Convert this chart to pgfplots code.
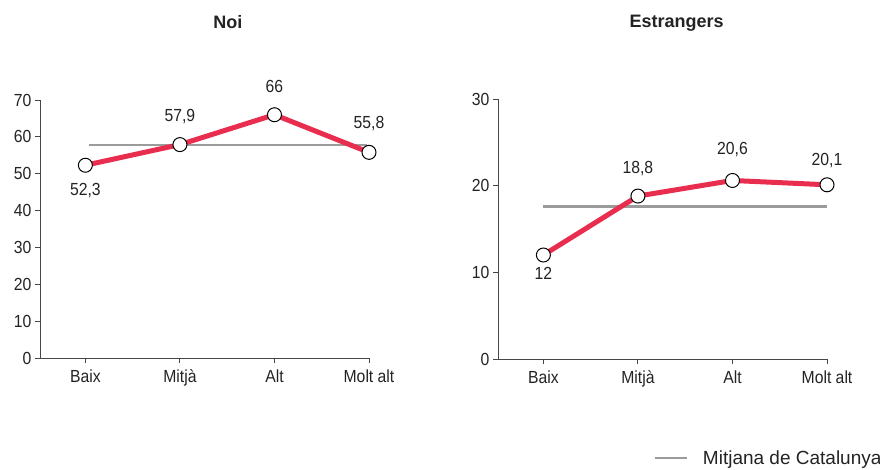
\documentclass[border=0pt]{standalone}
\usepackage{pgfplots}
\pgfplotsset{compat=1.18}
\usepackage{fontspec}
\setmainfont{Liberation Sans}
\newfontfamily\condfont[FakeStretch=0.9]{Liberation Sans}

\definecolor{linered}{RGB}{233,45,79}
\definecolor{avggray}{RGB}{155,155,155}
\definecolor{axisgray}{RGB}{70,70,70}
\definecolor{txt}{RGB}{35,35,35}

\pgfplotsset{
  panel/.style={
    scale only axis, width=329pt,
    axis x line=bottom, axis y line=left,
    axis line style={-, axisgray, line width=0.9pt},
    tick align=outside, major tick length=5pt,
    tick style={axisgray, line width=0.9pt},
    xmin=-0.48, xmax=3, ymin=0,
    xtick={0,1,2,3}, xticklabels={Baix,Mitjà,Alt,Molt alt},
    tick label style={font=\condfont\fontsize{17.5}{19}\selectfont, text=txt},
    xticklabel style={yshift=-3pt},
    /pgf/number format/assume math mode=true,
    title style={font=\bfseries\fontsize{18}{20}\selectfont, text=txt, anchor=center},
    clip=false,
  },
  avg/.style={avggray, line width=2.8pt},
  serie/.style={linered, line width=5pt,
    mark=*, mark size=7pt, mark options={fill=white, draw=black, line width=1pt},
    point meta=explicit symbolic, nodes near coords,
    visualization depends on={\thisrow{dy} \as \dy},
    every node near coord/.append style={anchor=center, yshift=\dy pt,
      font=\condfont\fontsize{17.5}{19}\selectfont, text=txt}},
}

\begin{document}
\begin{tikzpicture}
\path[use as bounding box] (0,0) rectangle (880pt,469pt);

% Noi
\begin{axis}[panel, at={(40pt,111pt)}, anchor=south west, height=258pt,
  ymax=70, ytick={0,10,...,70},
  title={Noi}, title style={at={(0.571,1.279)}}]
  \addplot[avg] coordinates {(0.04,57.8) (2.98,57.8)};
  \addplot[serie] table[x=x, y=y, meta=lbl] {
x y lbl dy
0 52.3 52,3 -25
1 57.9 57,9 28
2 66.0 66 28
3 55.8 55,8 29
};
\end{axis}

% Estrangers
\begin{axis}[panel, at={(498pt,110pt)}, anchor=south west, height=260pt,
  ymax=30, ytick={0,10,20,30},
  title={Estrangers}, title style={at={(0.5426,1.269)}},
  legend style={at={(0.471,-0.381)}, anchor=west, draw=none, fill=none,
    inner sep=0pt, font=\fontsize{19}{21}\selectfont, text=txt,
    nodes={inner sep=0pt}},
  legend image code/.code={\draw[avggray, line width=2.8pt] (0pt,0pt) -- (32pt,0pt); \path (47pt,0pt);}]
  \addplot[avg] coordinates {(0,17.6) (3,17.6)};
  \addlegendentry{Mitjana de Catalunya}
  \addplot[serie, forget plot] table[x=x, y=y, meta=lbl] {
x y lbl dy
0 12.0 12 -18
1 18.8 18,8 28
2 20.6 20,6 31
3 20.1 20,1 24
};
\end{axis}
\end{tikzpicture}
\end{document}
